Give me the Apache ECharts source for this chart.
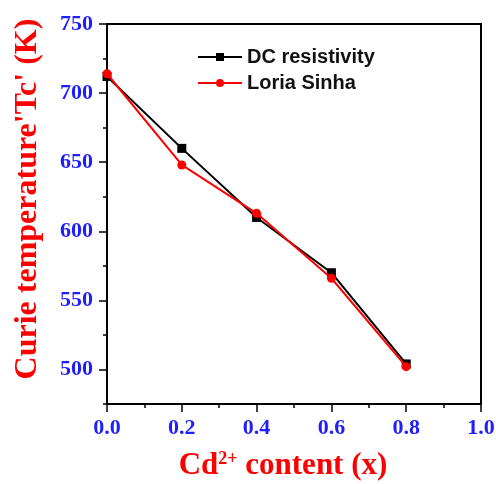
<!DOCTYPE html>
<html>
<head>
<meta charset="utf-8">
<script src="https://cdn.jsdelivr.net/npm/echarts@6/dist/echarts.min.js"></script>
<style>
  html, body { margin: 0; padding: 0; background: #fff; }
  #chart { width: 496px; height: 484px; }
</style>
</head>
<body>
<div id="chart"></div>
<script>
// Cd2+ content (x)
const xValues = [0.0, 0.2, 0.4, 0.6, 0.8]
// Curie temperature Tc (K)
const dcResistivity = [712, 660, 610, 570, 504]
const loriaSinha = [714, 648, 613, 566, 502]

// tick positions (long ticks drawn on labelled ones)
const xTicks = ['0.0', '0.1', '0.2', '0.3', '0.4', '0.5', '0.6', '0.7', '0.8', '0.9', '1.0']
const yTicks = ['475', '500', '525', '550', '575', '600', '625', '650', '675', '700', '725', '750']

const blue = '#1e1eff'
const red = '#ff0000'
const serif = '"Liberation Serif", "Times New Roman", serif'

const chart = echarts.init(document.getElementById('chart'))

chart.setOption({
  animation: false,
  grid: {
    left: 107,
    right: 15,
    top: 24,
    bottom: 80,
    outerBoundsMode: 'none',
    containLabel: false,
    show: true,
    borderColor: '#000',
    borderWidth: 2
  },
  legend: {
    left: 192,
    top: 42,
    orient: 'vertical',
    itemWidth: 44,
    itemHeight: 10,
    itemGap: 6,
    textStyle: {
      fontFamily: '"Liberation Sans", Arial, sans-serif',
      fontWeight: 'bold',
      fontSize: 20,
      color: '#111'
    },
    data: ['DC resistivity', 'Loria Sinha']
  },
  xAxis: [{
    type: 'value',
    min: 0,
    max: 1,
    interval: 0.1,
    name: '{a|Cd}{s|2+}{a| content (x)}',
    nameLocation: 'middle',
    nameGap: 46,
    nameTextStyle: {
      padding: [0, 22, 0, 0],
      rich: {
        a: { fontFamily: serif, fontWeight: 'bold', fontSize: 31, color: red, lineHeight: 32 },
        s: { fontFamily: serif, fontWeight: 'bold', fontSize: 18, color: red, verticalAlign: 'top', lineHeight: 32 }
      }
    },
    axisLine: { show: true, lineStyle: { color: '#000', width: 2 } },
    axisTick: { show: true, length: 4, lineStyle: { color: '#000', width: 1.5 } },
    axisLabel: {
      margin: 13,
      fontFamily: serif,
      fontWeight: 'bold',
      fontSize: 22,
      color: blue,
      formatter: function (v) {
        return Math.round(v * 10) % 2 === 0 ? v.toFixed(1) : ''
      }
    },
    splitLine: { show: false }
  }, {
    type: 'category',
    position: 'bottom',
    boundaryGap: false,
    data: xTicks,
    axisLine: { show: false },
    axisTick: {
      show: true,
      length: 8,
      lineStyle: { color: '#000', width: 1.5 },
      interval: function (i) { return i % 2 === 0 }
    },
    axisLabel: { show: false },
    splitLine: { show: false }
  }],
  yAxis: [{
    type: 'value',
    min: 475,
    max: 750,
    interval: 25,
    name: "Curie temperature'Tc' (K)",
    nameLocation: 'middle',
    nameGap: 63,
    nameTextStyle: {
      fontFamily: serif,
      fontWeight: 'bold',
      fontSize: 32,
      color: red,
      padding: [0, 0, 0, 30]
    },
    axisLine: { show: true, lineStyle: { color: '#000', width: 2 } },
    axisTick: { show: true, length: 4, lineStyle: { color: '#000', width: 1.5 } },
    axisLabel: {
      margin: 14,
      fontFamily: serif,
      fontWeight: 'bold',
      fontSize: 22,
      color: blue,
      formatter: function (v) {
        return v % 50 === 0 ? String(v) : ''
      }
    },
    splitLine: { show: false }
  }, {
    type: 'category',
    position: 'left',
    boundaryGap: false,
    data: yTicks,
    axisLine: { show: false },
    axisTick: {
      show: true,
      length: 8,
      lineStyle: { color: '#000', width: 1.5 },
      interval: function (i) { return i % 2 === 1 }
    },
    axisLabel: { show: false },
    splitLine: { show: false }
  }],
  series: [{
    name: 'DC resistivity',
    type: 'line',
    xAxisIndex: 0,
    yAxisIndex: 0,
    data: xValues.map((x, i) => [x, dcResistivity[i]]),
    symbol: 'rect',
    symbolSize: 9,
    color: '#000',
    lineStyle: { width: 2, color: '#000' },
    itemStyle: { color: '#000' },
    z: 2
  }, {
    name: 'Loria Sinha',
    type: 'line',
    xAxisIndex: 0,
    yAxisIndex: 0,
    data: xValues.map((x, i) => [x, loriaSinha[i]]),
    symbol: 'circle',
    symbolSize: 9,
    color: red,
    lineStyle: { width: 2, color: red },
    itemStyle: { color: red },
    z: 3
  }]
})
</script>
</body>
</html>
